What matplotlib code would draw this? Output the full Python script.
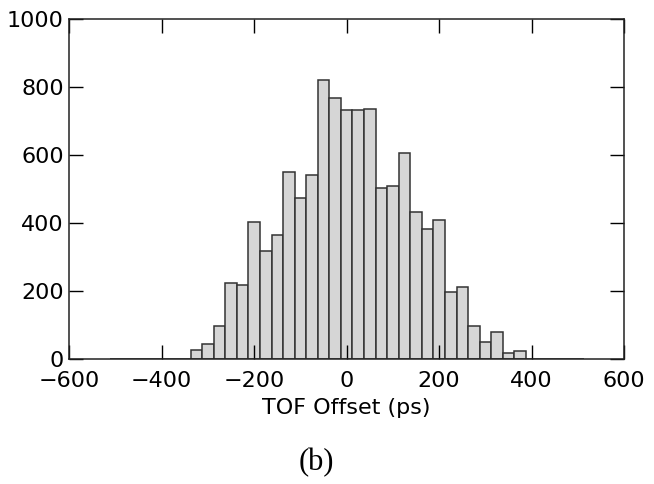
import numpy as np
import matplotlib.pyplot as plt

# histogram of TOF offsets, 25 ps bins centred on multiples of 25
bin_width = 25
bin_centers = np.arange(-500, 501, bin_width)
counts = [0, 0, 0, 0, 0, 0, 0,
          25, 42, 96, 222, 216, 402, 318, 365, 551, 473, 540, 821, 767,
          732,
          732, 737, 502, 510, 605, 432, 383, 408, 197, 210, 96, 48, 78, 18, 24,
          0, 0, 0, 0, 0]
bin_edges = np.append(bin_centers - bin_width / 2, bin_centers[-1] + bin_width / 2)

x_ticks = [-600, -400, -200, 0, 200, 400, 600]
y_ticks = [0, 200, 400, 600, 800, 1000]

plt.rcParams['font.family'] = 'DejaVu Sans'
fig = plt.figure(figsize=(6.54, 4.84), dpi=100)
ax = fig.add_axes([0.1058, 0.259, 0.8486, 0.701])

ax.hist(bin_centers, bins=bin_edges, weights=counts,
        color='#d6d6d6', edgecolor='#333333', linewidth=1.1)

ax.set_xlim(-600, 600)
ax.set_ylim(0, 1000)
ax.set_xticks(x_ticks)
ax.set_yticks(y_ticks)
ax.tick_params(direction='in', length=10, width=1, labelsize=16,
               top=True, right=True)
ax.tick_params(axis='x', pad=9)
ax.tick_params(axis='y', pad=4)
for s in ax.spines.values():
    s.set_linewidth(1.1)
    s.set_color('#222222')
ax.set_xlabel('TOF Offset (ps)', fontsize=16, labelpad=5)

fig.text(0.484, 0.045, '(b)', family='Liberation Serif', fontsize=22,
         ha='center', va='center')

fig.savefig('out.png', dpi=100)
